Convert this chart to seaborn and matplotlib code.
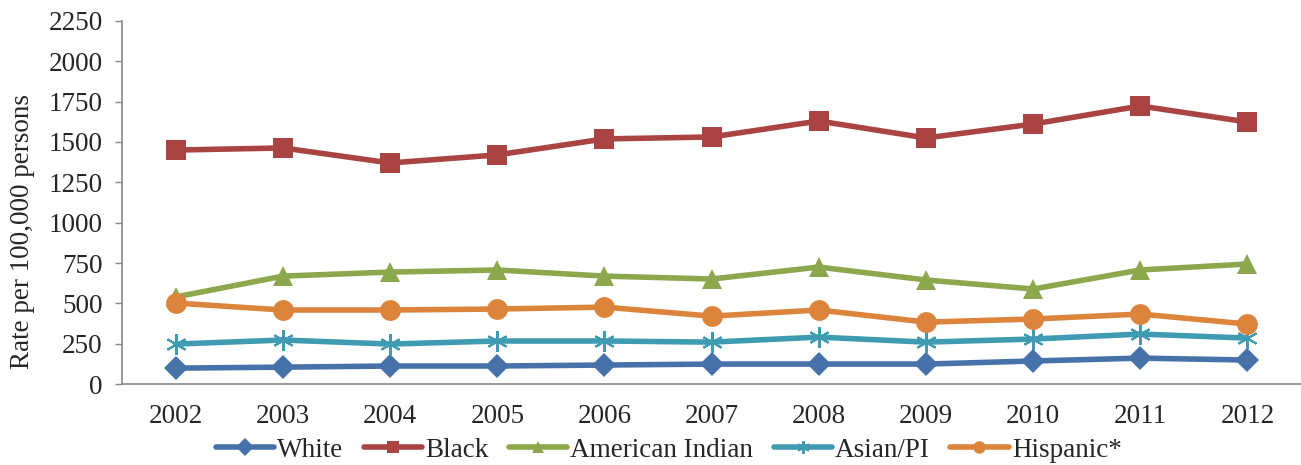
import pandas as pd
import seaborn as sns
from matplotlib import pyplot as plt

years = [2002, 2003, 2004, 2005, 2006, 2007, 2008, 2009, 2010, 2011, 2012]
white = [99, 105, 112, 112, 118, 124, 124, 124, 143, 161, 149]
black = [1450, 1463, 1370, 1420, 1519, 1531, 1630, 1525, 1611, 1723, 1624]
american_indian = [540, 669, 694, 707, 669, 651, 725, 645, 589, 707, 744]
asian_pi = [248, 273, 248, 267, 267, 260, 291, 260, 279, 310, 285]
hispanic = [502, 459, 459, 465, 477, 421, 459, 384, 403, 434, 372]

SERIES = [
    ("White", white, "#4671A9", "D", 12),
    ("Black", black, "#A94442", "s", 14),
    ("American Indian", american_indian, "#8BA84C", "^", 15),
    ("Asian/PI", asian_pi, "#3F9BB2", (6, 2, 0), 15),
    ("Hispanic*", hispanic, "#DD843C", "o", 15),
]
FS = 19.5

sns.set_style("white")
plt.rcParams['font.family'] = ['Liberation Serif', 'DejaVu Serif']

fig = plt.figure(figsize=(13.01, 4.65), dpi=100)
ax = fig.add_axes([0.094, 0.174, 0.906, 0.781])

pos = list(range(len(years)))
for name, vals, color, marker, ms in SERIES:
    df = pd.DataFrame({"x": pos, "y": vals})
    sns.lineplot(df, x="x", y="y", ax=ax, color=color, marker=marker, markersize=ms,
                 linewidth=4, markeredgecolor=color, markeredgewidth=1.5 if marker == (6, 2, 0) else 0,
                 label=name)

ax.set_xlim(-0.5, len(years) - 0.5)
ax.set_ylim(0, 2250)
ax.set_yticks(range(0, 2251, 250))
ax.set_xticks(pos)
ax.set_xticklabels([str(y) for y in years])
ax.tick_params(axis="x", length=0, pad=14, labelsize=FS)
ax.tick_params(axis="y", length=5, width=1, color="#888888", direction="out", pad=9, labelsize=FS, left=True)
ax.set_xlabel("")
ax.set_ylabel("Rate per 100,000 persons", fontsize=FS)
ax.yaxis.set_label_coords(-0.074, 0.42)

for side in ["top", "right"]:
    ax.spines[side].set_visible(False)
for side in ["left", "bottom"]:
    ax.spines[side].set_color("#888888")
    ax.spines[side].set_linewidth(1.2)

handles, labels = ax.get_legend_handles_labels()
ax.get_legend().remove()
leg = fig.legend(handles, labels, loc="center", bbox_to_anchor=(0.514, 0.032), ncol=5, frameon=False,
                 fontsize=FS, handlelength=2.15, handletextpad=0.12, columnspacing=0.75)
for ln in leg.get_lines():
    ln.set_markersize(9)

plt.savefig("out.png", dpi=100)
